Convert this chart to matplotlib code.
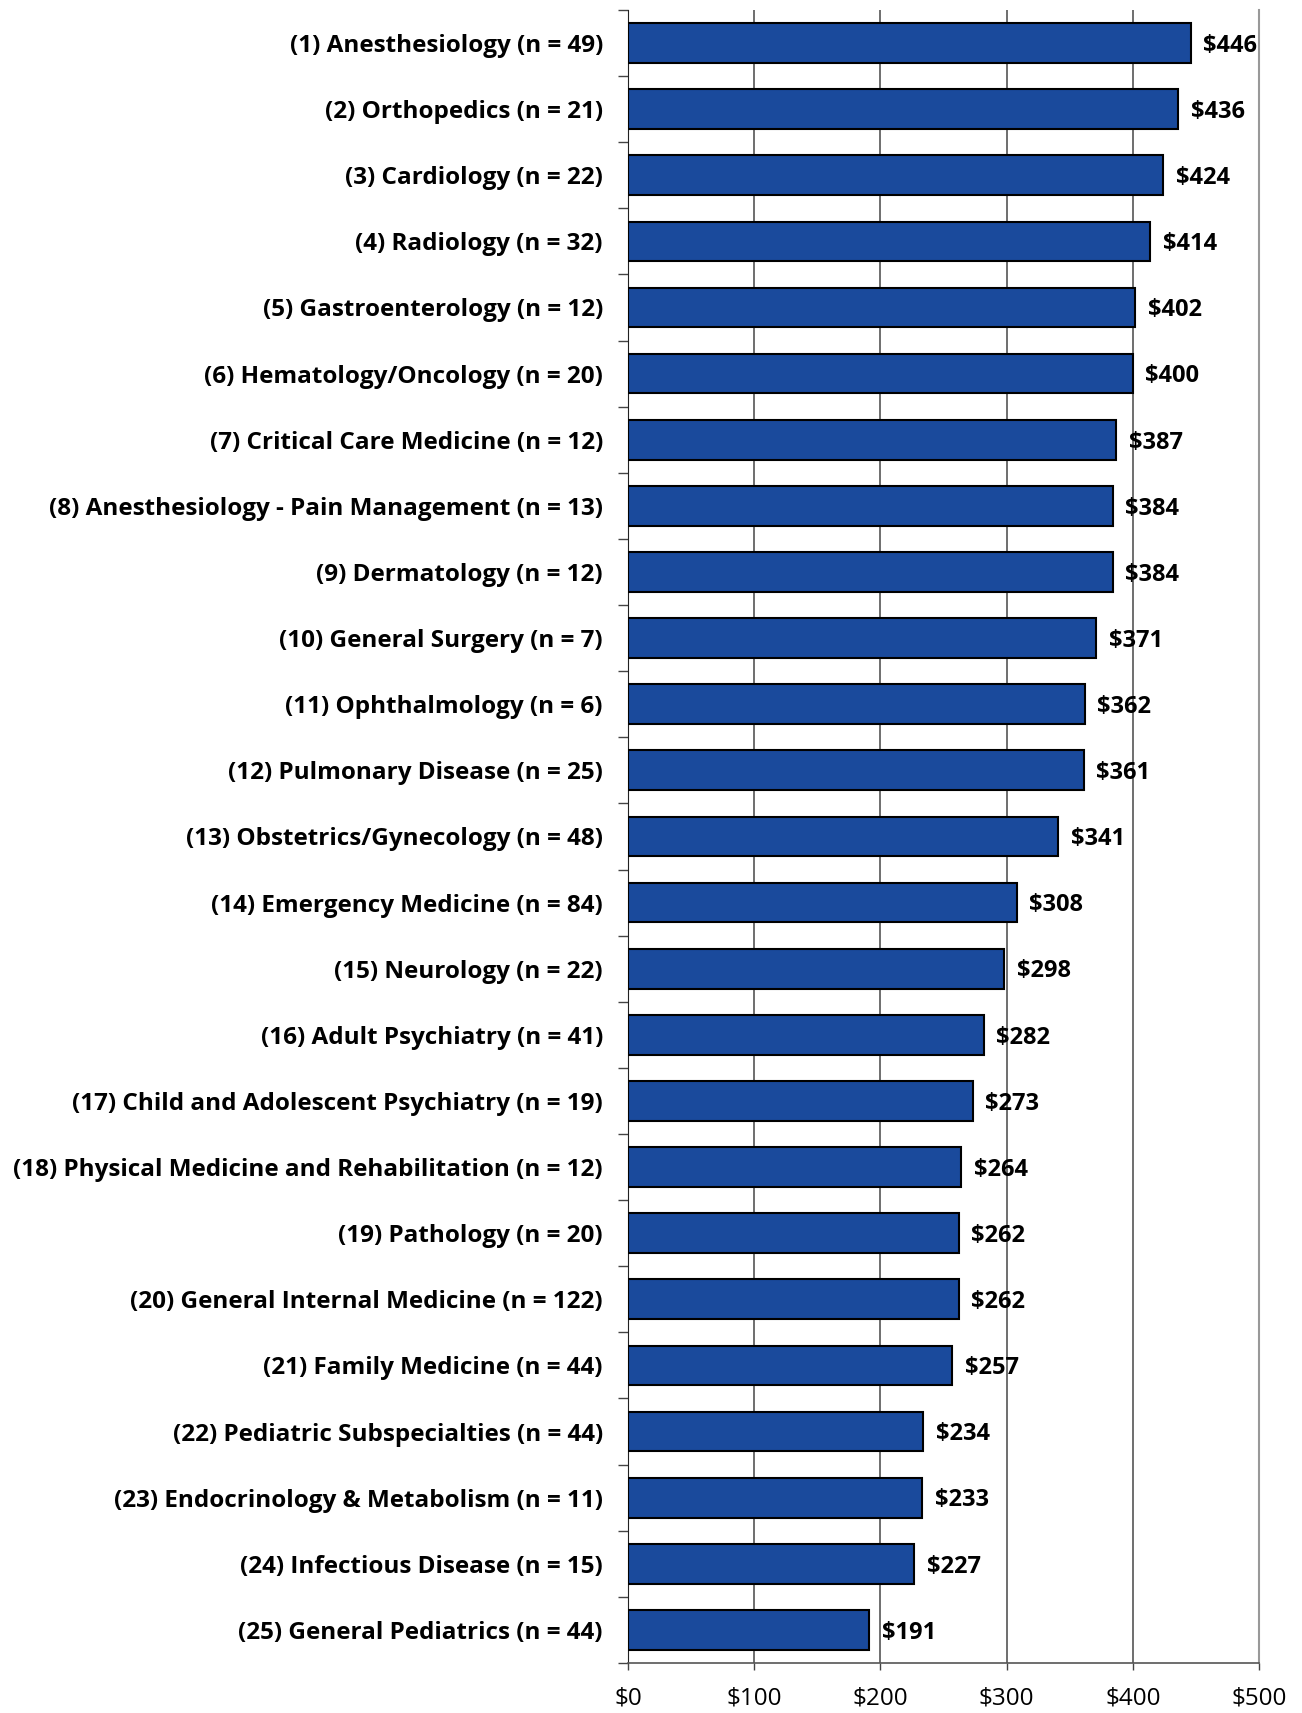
import numpy as np
import matplotlib
matplotlib.use("Agg")
import matplotlib.pyplot as plt

plt.rcParams['font.family'] = ['Open Sans', 'DejaVu Sans']

# 专科名称与样本量、平均值（美元）
specialties = [
    "Anesthesiology", "Orthopedics", "Cardiology", "Radiology",
    "Gastroenterology", "Hematology/Oncology", "Critical Care Medicine",
    "Anesthesiology - Pain Management", "Dermatology", "General Surgery",
    "Ophthalmology", "Pulmonary Disease", "Obstetrics/Gynecology",
    "Emergency Medicine", "Neurology", "Adult Psychiatry",
    "Child and Adolescent Psychiatry", "Physical Medicine and Rehabilitation",
    "Pathology", "General Internal Medicine", "Family Medicine",
    "Pediatric Subspecialties", "Endocrinology & Metabolism",
    "Infectious Disease", "General Pediatrics",
]
n_counts = [49, 21, 22, 32, 12, 20, 12, 13, 12, 7, 6, 25, 48, 84, 22, 41,
            19, 12, 20, 122, 44, 44, 11, 15, 44]
values = [446, 436, 424, 414, 402, 400, 387, 384, 384, 371, 362, 361, 341,
          308, 298, 282, 273, 264, 262, 262, 257, 234, 233, 227, 191]
x_ticks = [0, 100, 200, 300, 400, 500]

labels = [f"({i + 1}) {s} (n = {n})" for i, (s, n) in enumerate(zip(specialties, n_counts))]

fig = plt.figure(figsize=(13.02, 17.13), dpi=100)
ax = fig.add_axes([0.4823, 0.0292, 0.967 - 0.4823, 0.9942 - 0.0292])

y = np.arange(len(values))
ax.barh(y, values, height=0.6, color='#1a4a9c', edgecolor='black', linewidth=1.5, zorder=3)

for yi, v in zip(y, values):
    ax.annotate(f"${v}", (v, yi), xytext=(9, -2), textcoords='offset points',
                va='center', ha='left', fontsize=17, fontweight='bold', zorder=4)

ax.set_xlim(0, 500)
ax.set_ylim(len(values) - 0.5, -0.5)

ax.set_xticks(x_ticks)
ax.set_xticklabels([f"${t}" for t in x_ticks], fontsize=17.5)
ax.tick_params(axis='x', length=5, width=1, pad=12, color='#444444')

ax.set_yticks(y)
ax.set_yticklabels(labels, fontsize=17.5, fontweight='bold')
ax.tick_params(axis='y', which='major', length=0, pad=18)
ax.set_yticks(np.arange(len(values) + 1) - 0.5, minor=True)
ax.tick_params(axis='y', which='minor', length=7, width=1, color='#444444')

ax.grid(axis='x', color='#555555', linewidth=1.2, zorder=0)
ax.spines['top'].set_visible(False)
ax.spines['right'].set_color('#999999')
ax.spines['right'].set_linewidth(1.5)
ax.spines['left'].set_color('#222222')
ax.spines['bottom'].set_color('#555555')
ax.spines['bottom'].set_linewidth(1.2)

fig.savefig('out.png', dpi=100, facecolor='white')
